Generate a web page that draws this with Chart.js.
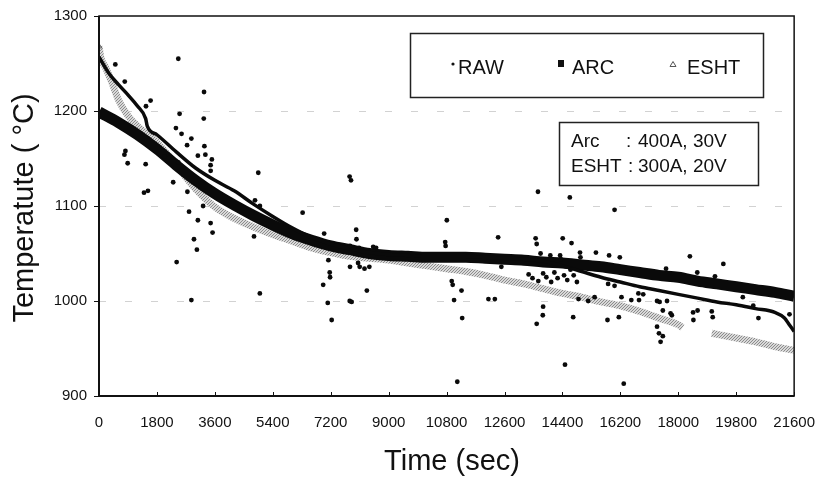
<!DOCTYPE html>
<html>
<head>
<meta charset="utf-8">
<script src="https://cdn.jsdelivr.net/npm/chart.js@4.4.1/dist/chart.umd.min.js"></script>
<style>
  html, body { margin: 0; padding: 0; background: #fff; }
  #wrap { width: 833px; height: 477px; }
</style>
</head>
<body>
<div id="wrap"><canvas id="c" width="833" height="477"></canvas></div>
<script>
// ---------------- data ----------------
const xTicks = [0, 1800, 3600, 5400, 7200, 9000, 10800, 12600, 14400, 16200, 18000, 19800, 21600];
const yTicks = [900, 1000, 1100, 1200, 1300];
const gridValues = [1000, 1100, 1200];

const legendLabels = ['RAW', 'ARC', 'ESHT'];
const infoLines = [['Arc', ':', '400A, 30V'], ['ESHT', ':', '300A, 20V']];
const xTitle = 'Time (sec)';
const yTitle = 'Temperatute ( \u00B0C)';

// ARC (thick black band)
const arcTime = [0,600,1200,1800,2400,3000,3600,4200,4800,5400,6000,6600,7200,7800,8400,9000,9600,10200,10800,11400,12000,12600,13200,13800,14400,15000,15600,16200,16800,17400,18000,18600,19200,19800,20400,21000,21600];
const arcTemp = [1199,1188,1175,1160,1143,1127,1113,1101,1090,1080,1071,1064,1058,1054,1050,1048,1047,1046,1046,1046,1045,1044,1043,1041,1040,1038,1036,1033,1030,1027,1025,1021,1018,1015,1012,1009,1005];

// RAW dense trace (thin black curve)
const rawTrendTime = [0,300,600,900,1200,1450,1500,1800,2400,3000,3600,4200,4800,5400,6000,6600,7200,7800,8400,9000,9600,10200,10800,11400,12000,12600,13200,13800,14400,15000,15600,16200,16800,17400,18000,18600,19200,19800,20400,21000,21300,21450,21600];
const rawTrendTemp = [1257,1240,1228,1217,1205,1192,1184,1175,1157,1140,1127,1116,1102,1089,1077,1067,1060,1055,1051,1049,1048,1047,1047,1047,1046,1045,1044,1042,1037,1031,1025,1020,1015,1011,1007,1003,999,996,992,988,982,975,968];

// RAW scattered readings (dots)
const rawDotTime = [507,800,2464,1603,1460,3264,2504,3255,2390,2565,2737,2870,3072,3275,3305,3507,3468,3470,821,891,790,1450,1399,1521,2038,2305,2464,2747,2798,3072,3235,3468,3529,4949,4847,5000,6327,6996,7991,7787,7830,2413,2951,3042,2870,4998,4816,6966,7108,7230,7169,7180,7128,7790,7850,8323,7800,8100,8250,8400,8050,8080,8520,8610,8000,7800,10808,10757,10770,10960,10990,11033,11264,11285,11133,12402,12502,12100,12300,13567,13600,13720,14024,14328,14350,14409,14683,14946,14960,15441,15850,16183,13350,13470,13650,13800,13900,14050,14150,14250,14450,14550,14650,14750,14850,13800,13790,13600,14734,14480,14900,15200,15400,15800,15820,16153,16235,16305,16540,16780,16760,16910,17340,17420,17650,17520,17760,17800,17340,17400,17520,17450,17620,18360,18590,18460,18470,18600,19040,19070,19140,19400,20005,20330,20490,21455,13640,14630,16020,16020];
const rawDotTemp = [1249,1231,1255,1211,1205,1220,1197,1192,1182,1176,1164,1171,1153,1163,1154,1149,1143,1137,1158,1145,1154,1144,1114,1116,1152,1125,1146,1115,1094,1085,1100,1082,1072,1135,1106,1100,1093,1071,1075,1131,1127,1041,1065,1054,1001,1008,1068,1017,998,980,1030,1025,1043,1000,999,1011,1036,1036,1034,1036,1040,1056,1057,1056,1065,1058,1085,1062,1058,1021,1017,1001,1011,982,915,1067,1036,1002,1002,1066,1060,1050,1048,1048,1044,1066,1061,1051,1046,1051,1048,1046,1028,1024,1021,1029,1025,1020,1030,1024,1027,1022,1033,1027,1020,994,985,976,983,933,1002,1000,1004,980,1018,983,1004,913,1001,1001,1008,1007,1000,999,1000,990,987,985,973,966,963,957,1034,1047,1030,988,980,990,989,983,1026,1039,1004,995,982,986,1115,1109,1096,1016];

// ESHT (grey band of small triangles), with a gap in the record
const eshtTime = [0,60,200,400,600,900,1200,1800,2400,3000,3600,4200,4800,5400,6000,6600,7200,7800,8400,9000,9600,10200,10800,11400,12000,12600,13200,13800,14400,15000,15600,16200,16800,17400,18000,18130,18500,19040,19800,20400,21000,21600];
const eshtTemp = [1268,1256,1246,1230,1212,1195,1184,1167,1143,1118,1099,1087,1078,1070,1063,1056,1051,1047,1045,1043,1040,1037,1034,1031,1027,1022,1018,1013,1008,1004,999,995,989,982,975,972,null,966,961,957,952,948];

// ---------------- helpers ----------------
const pts = (xs, ys) => xs.map((x, i) => ({ x: x, y: ys[i] }));
const FONT = '"Liberation Sans", Arial, sans-serif';

function greyPattern() {
  const p = document.createElement('canvas');
  p.width = 3; p.height = 3;
  const g = p.getContext('2d');
  g.fillStyle = '#d9d9d9'; g.fillRect(0, 0, 3, 3);
  g.fillStyle = '#8c8c8c';
  g.fillRect(0, 0, 1, 1); g.fillRect(2, 1, 1, 1); g.fillRect(1, 2, 1, 1);
  return g.createPattern(p, 'repeat');
}
const ctx0 = document.getElementById('c').getContext('2d');
const eshtPattern = greyPattern();

// ---------------- decorations plugin ----------------
const decor = {
  id: 'decor',
  beforeDatasetsDraw(chart) {
    const { ctx, chartArea: a, scales: { y } } = chart;
    ctx.save();
    ctx.strokeStyle = '#d2d2d2';
    ctx.lineWidth = 1;
    ctx.setLineDash([7, 19]);
    gridValues.forEach(v => {
      const py = Math.round(y.getPixelForValue(v)) + 0.5;
      ctx.beginPath(); ctx.moveTo(a.left, py); ctx.lineTo(a.right, py); ctx.stroke();
    });
    ctx.restore();
  },
  afterDatasetsDraw(chart) {
    const { ctx, chartArea: a, scales: { x } } = chart;
    ctx.save();
    // frame
    ctx.strokeStyle = '#111';
    ctx.lineWidth = 1.5;
    ctx.strokeRect(a.left, a.top, a.right - a.left, a.bottom - a.top);
    ctx.lineWidth = 2;
    ctx.beginPath();
    ctx.moveTo(a.left, a.top); ctx.lineTo(a.left, a.bottom); ctx.lineTo(a.right, a.bottom);
    ctx.stroke();
    // inward x tick marks
    ctx.lineWidth = 1;
    xTicks.forEach(t => {
      const px = Math.round(x.getPixelForValue(t)) + 0.5;
      ctx.beginPath(); ctx.moveTo(px, a.bottom); ctx.lineTo(px, a.bottom - 4); ctx.stroke();
    });

    // legend box
    ctx.fillStyle = '#fff';
    ctx.fillRect(410, 33, 353, 64);
    ctx.strokeStyle = '#222';
    ctx.lineWidth = 1.5;
    ctx.strokeRect(410.5, 33.5, 353, 64);
    ctx.fillStyle = '#111';
    ctx.font = '20px ' + FONT;
    ctx.textBaseline = 'alphabetic';
    ctx.textAlign = 'left';
    ctx.beginPath(); ctx.arc(453, 64, 1.6, 0, Math.PI * 2); ctx.fill();
    ctx.fillText(legendLabels[0], 458, 74);
    ctx.fillRect(558, 60, 6, 7);
    ctx.fillText(legendLabels[1], 572, 74);
    ctx.strokeStyle = '#555'; ctx.lineWidth = 1;
    ctx.beginPath(); ctx.moveTo(673, 61.5); ctx.lineTo(676, 66.5); ctx.lineTo(670, 66.5); ctx.closePath(); ctx.stroke();
    ctx.fillText(legendLabels[2], 687, 74);

    // info box
    ctx.fillStyle = '#fff';
    ctx.fillRect(559, 122, 199, 63);
    ctx.strokeStyle = '#222'; ctx.lineWidth = 1.5;
    ctx.strokeRect(559.5, 122.5, 199, 63);
    ctx.fillStyle = '#111';
    ctx.font = '19px ' + FONT;
    ctx.fillText(infoLines[0][0], 571, 147);
    ctx.fillText(infoLines[0][1], 626, 147);
    ctx.fillText(infoLines[0][2], 638, 147);
    ctx.fillText(infoLines[1][0], 571, 172);
    ctx.fillText(infoLines[1][1], 628, 172);
    ctx.fillText(infoLines[1][2], 638, 172);

    // axis titles
    ctx.font = '29px ' + FONT;
    ctx.textAlign = 'center';
    ctx.textBaseline = 'alphabetic';
    ctx.fillText(xTitle, 452, 470);
    ctx.translate(25, 208);
    ctx.rotate(-Math.PI / 2);
    ctx.textBaseline = 'middle';
    ctx.fillText(yTitle, 0, 0);
    ctx.restore();
  }
};

// ---------------- chart ----------------
new Chart(ctx0, {
  type: 'scatter',
  data: {
    datasets: [
      {
        label: 'ESHT',
        data: pts(eshtTime, eshtTemp),
        showLine: true,
        spanGaps: false,
        borderColor: eshtPattern,
        borderWidth: 7,
        backgroundColor: '#fff',
        pointStyle: 'triangle',
        pointRadius: c => (c.dataIndex === 0 ? 3 : 0),
        pointBorderColor: '#555',
        pointBorderWidth: 1,
        cubicInterpolationMode: 'monotone',
        borderCapStyle: 'butt',
        borderJoinStyle: 'round',
        order: 4
      },
      {
        label: 'ARC',
        data: pts(arcTime, arcTemp),
        showLine: true,
        borderColor: '#0a0a0a',
        backgroundColor: '#0a0a0a',
        borderWidth: 11,
        pointRadius: 0,
        cubicInterpolationMode: 'monotone',
        borderCapStyle: 'butt',
        borderJoinStyle: 'round',
        order: 3
      },
      {
        label: 'RAW',
        data: pts(rawTrendTime, rawTrendTemp),
        showLine: true,
        borderColor: '#0a0a0a',
        borderWidth: 3.5,
        pointRadius: 0,
        cubicInterpolationMode: 'monotone',
        borderJoinStyle: 'round',
        order: 2
      },
      {
        label: 'RAW dots',
        data: pts(rawDotTime, rawDotTemp),
        showLine: false,
        pointStyle: 'circle',
        pointRadius: 2.4,
        pointBorderWidth: 0,
        backgroundColor: '#0a0a0a',
        order: 1
      }
    ]
  },
  options: {
    responsive: false,
    animation: false,
    layout: { padding: { left: 0, right: 24, top: 14, bottom: 0 } },
    plugins: { legend: { display: false }, tooltip: { enabled: false } },
    scales: {
      x: {
        type: 'linear',
        min: 0, max: 21600,
        afterBuildTicks: s => { s.ticks = xTicks.map(v => ({ value: v })); },
        afterFit: s => { s.height = 81; },
        grid: { display: true, drawOnChartArea: false, drawTicks: false, color: 'rgba(0,0,0,0)' },
        border: { display: false },
        ticks: { color: '#111', font: { family: FONT, size: 15 }, padding: 18, maxRotation: 0, autoSkip: false, callback: v => String(v) }
      },
      y: {
        min: 900, max: 1300,
        afterBuildTicks: s => { s.ticks = yTicks.map(v => ({ value: v })); },
        afterFit: s => { s.width = 99; },
        grid: { display: true, drawOnChartArea: false, drawTicks: true, tickLength: 5, color: 'rgba(0,0,0,0)', tickColor: '#111' },
        border: { display: false },
        ticks: { color: '#111', font: { family: FONT, size: 15 }, padding: 7, callback: v => String(v) }
      }
    }
  },
  plugins: [decor]
});
</script>
</body>
</html>
